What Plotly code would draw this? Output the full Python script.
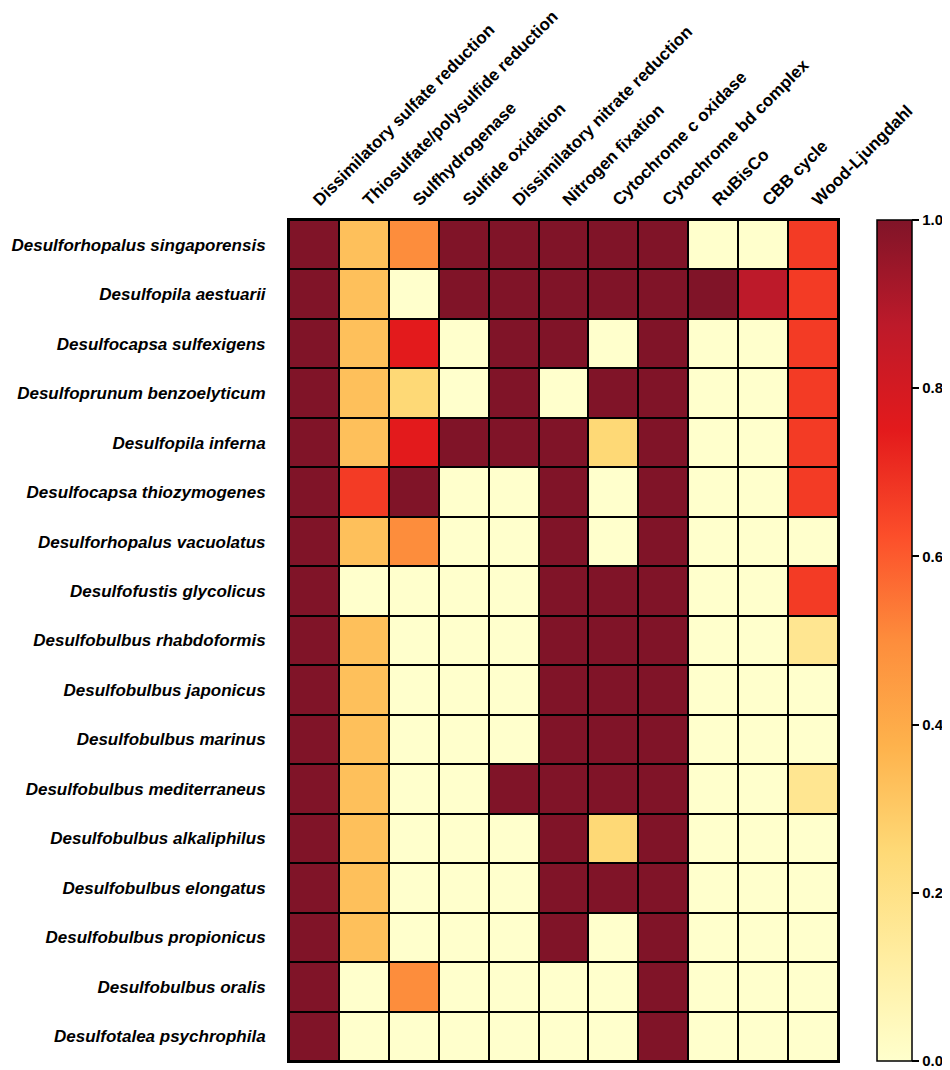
import plotly.graph_objects as go

# functions (columns)
pathways = [
    "Dissimilatory sulfate reduction", "Thiosulfate/polysulfide reduction",
    "Sulfhydrogenase", "Sulfide oxidation", "Dissimilatory nitrate reduction",
    "Nitrogen fixation", "Cytochrome c oxidase", "Cytochrome bd complex",
    "RuBisCo", "CBB cycle", "Wood-Ljungdahl",
]

# genomes (rows, top to bottom)
species = [
    "Desulforhopalus singaporensis", "Desulfopila aestuarii",
    "Desulfocapsa sulfexigens", "Desulfoprunum benzoelyticum",
    "Desulfopila inferna", "Desulfocapsa thiozymogenes",
    "Desulforhopalus vacuolatus", "Desulfofustis glycolicus",
    "Desulfobulbus rhabdoformis", "Desulfobulbus japonicus",
    "Desulfobulbus marinus", "Desulfobulbus mediterraneus",
    "Desulfobulbus alkaliphilus", "Desulfobulbus elongatus",
    "Desulfobulbus propionicus", "Desulfobulbus oralis",
    "Desulfotalea psychrophila",
]

# completeness values, one list per genome
singaporensis = [1, 0.33, 0.5, 1, 1, 1, 1, 1, 0, 0, 0.67]
aestuarii     = [1, 0.33, 0, 1, 1, 1, 1, 1, 1, 0.875, 0.67]
sulfexigens   = [1, 0.33, 0.75, 0, 1, 1, 0, 1, 0, 0, 0.67]
benzoelyticum = [1, 0.33, 0.25, 0, 1, 0, 1, 1, 0, 0, 0.67]
inferna       = [1, 0.33, 0.75, 1, 1, 1, 0.25, 1, 0, 0, 0.67]
thiozymogenes = [1, 0.67, 1, 0, 0, 1, 0, 1, 0, 0, 0.67]
vacuolatus    = [1, 0.33, 0.5, 0, 0, 1, 0, 1, 0, 0, 0]
glycolicus    = [1, 0, 0, 0, 0, 1, 1, 1, 0, 0, 0.67]
rhabdoformis  = [1, 0.33, 0, 0, 0, 1, 1, 1, 0, 0, 0.17]
japonicus     = [1, 0.33, 0, 0, 0, 1, 1, 1, 0, 0, 0]
marinus       = [1, 0.33, 0, 0, 0, 1, 1, 1, 0, 0, 0]
mediterraneus = [1, 0.33, 0, 0, 1, 1, 1, 1, 0, 0, 0.17]
alkaliphilus  = [1, 0.33, 0, 0, 0, 1, 0.25, 1, 0, 0, 0]
elongatus     = [1, 0.33, 0, 0, 0, 1, 1, 1, 0, 0, 0]
propionicus   = [1, 0.33, 0, 0, 0, 1, 0, 1, 0, 0, 0]
oralis        = [1, 0, 0.5, 0, 0, 0, 0, 1, 0, 0, 0]
psychrophila  = [1, 0, 0, 0, 0, 0, 0, 1, 0, 0, 0]

z = [singaporensis, aestuarii, sulfexigens, benzoelyticum, inferna,
     thiozymogenes, vacuolatus, glycolicus, rhabdoformis, japonicus,
     marinus, mediterraneus, alkaliphilus, elongatus, propionicus,
     oralis, psychrophila]

# YlOrRd (brewer 9), top end tuned to the printed dark red
ylorrd = ["#FFFFCC", "#FFEDA0", "#FED976", "#FEB24C", "#FD8D3C",
          "#FC4E2A", "#E31A1C", "#BD1A2A", "#801428"]
colorscale = [[i / 8, c] for i, c in enumerate(ylorrd)]

FONT = "Liberation Sans, Arial, Helvetica, sans-serif"

fig = go.Figure(
    go.Heatmap(
        z=z,
        x=pathways,
        y=species,
        zmin=0,
        zmax=1,
        colorscale=colorscale,
        xgap=2,
        ygap=2,
        colorbar=dict(
            x=1.071,
            xanchor="left",
            xpad=0,
            ypad=0,
            y=0.5,
            yanchor="middle",
            len=1,
            lenmode="fraction",
            thickness=35,
            outlinecolor="black",
            outlinewidth=1.5,
            ticks="outside",
            ticklen=7,
            tickwidth=1.5,
            tickcolor="black",
            tick0=0,
            dtick=0.2,
            tickformat=".1f",
            tickfont=dict(family=FONT, size=15, color="black", weight="bold"),
        ),
        hovertemplate="%{y}<br>%{x}: %{z}<extra></extra>",
    )
)

fig.update_xaxes(
    side="top",
    tickangle=-45,
    tickmode="array",
    tickvals=pathways,
    ticktext=["<b>" + p + "</b>" for p in pathways],
    tickfont=dict(family=FONT, size=17, color="black"),
    ticklabelstandoff=2,
    showline=True,
    mirror=True,
    linecolor="black",
    linewidth=2,
    showgrid=False,
    zeroline=False,
)
fig.update_yaxes(
    autorange="reversed",
    tickmode="array",
    tickvals=species,
    ticktext=["<b><i>" + s + "</i></b>" for s in species],
    tickfont=dict(family=FONT, size=17, color="black"),
    ticklabelstandoff=18,
    showline=True,
    mirror=True,
    linecolor="black",
    linewidth=2,
    showgrid=False,
    zeroline=False,
)

# page body adds an 8px offset, so the figure is sized to fit the window
fig.update_layout(
    width=942,
    height=1062,
    margin=dict(l=281, r=112, t=212, b=9, autoexpand=False),
    paper_bgcolor="white",
    plot_bgcolor="black",
    font=dict(family=FONT),
)

fig.write_html("out.html")
